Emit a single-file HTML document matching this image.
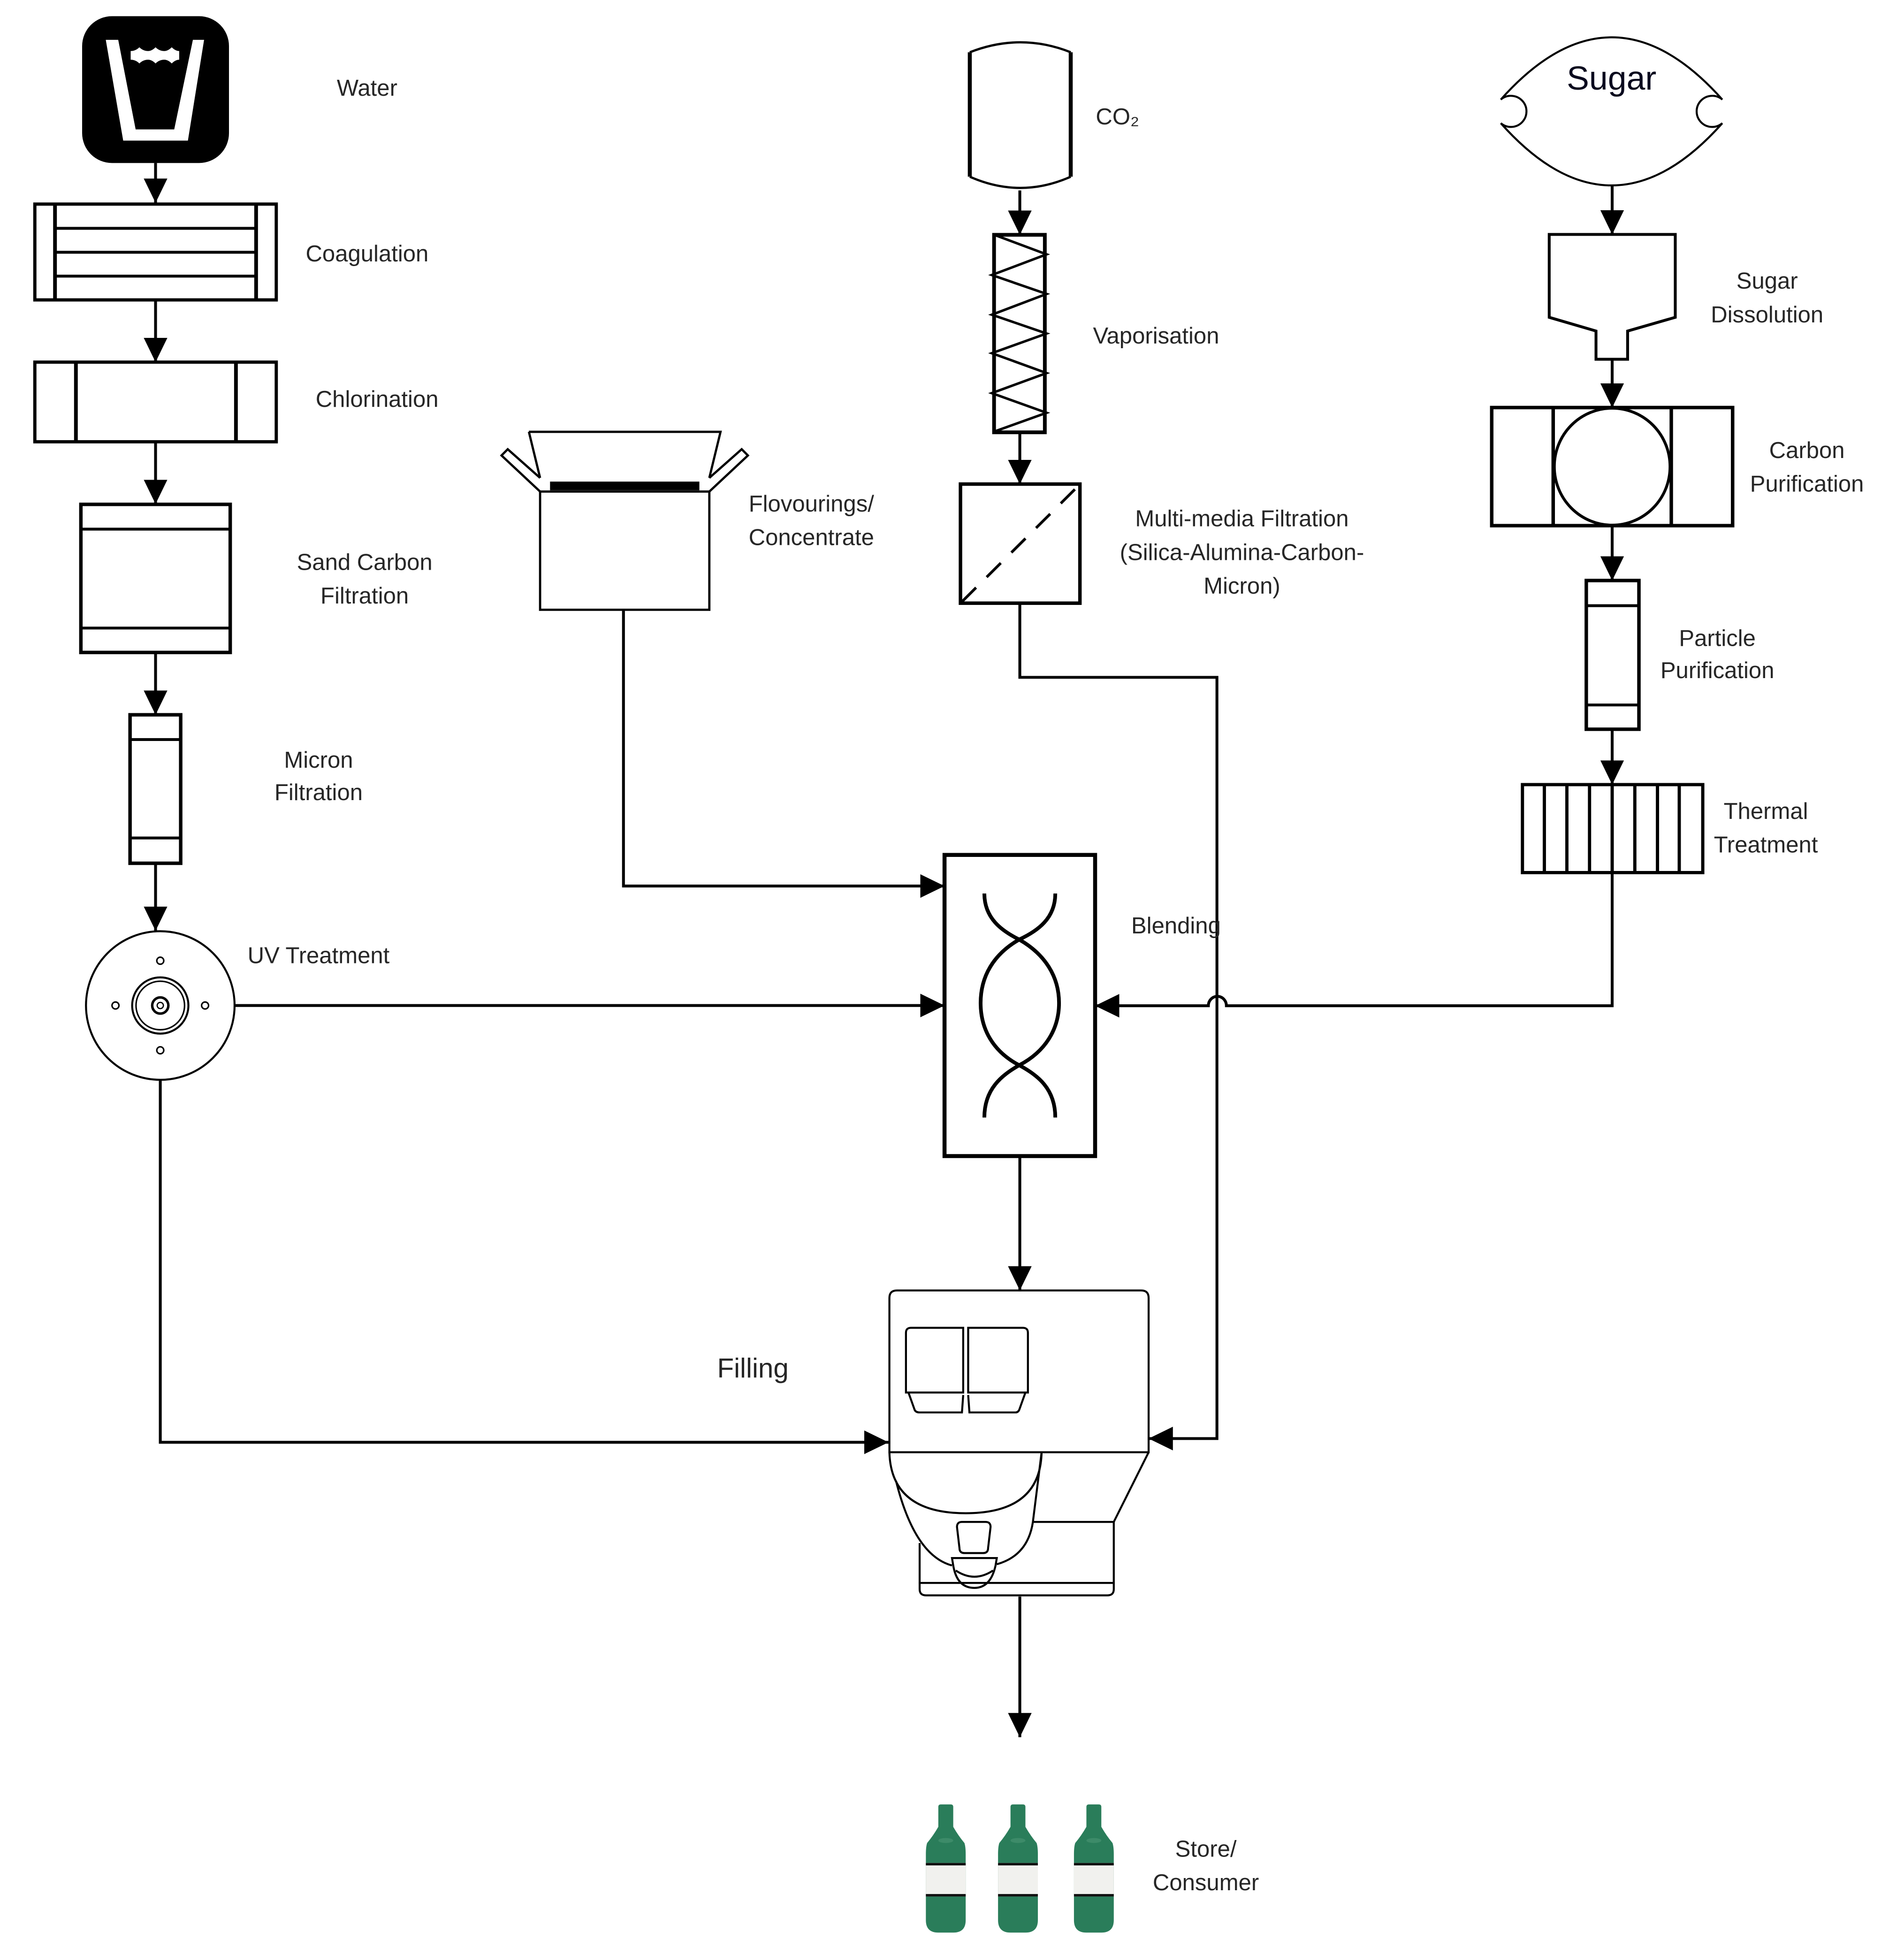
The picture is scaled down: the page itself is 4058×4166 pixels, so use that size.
<!DOCTYPE html>
<html><head><meta charset="utf-8">
<style>
html,body{margin:0;padding:0;background:#fff;}
svg{display:block;}
text{font-family:"Liberation Sans",sans-serif;fill:#262626;font-size:18.5px;}
</style></head>
<body>
<svg width="4058" height="4166" viewBox="0 0 1530 1571" preserveAspectRatio="none" xmlns="http://www.w3.org/2000/svg">
<defs>
<marker id="a" markerUnits="userSpaceOnUse" markerWidth="20" markerHeight="20" viewBox="0 0 20 20" refX="19.5" refY="10" orient="auto">
<path d="M0,0.5 L19.5,10 L0,19.5 Z" fill="#000"/>
</marker>
</defs>
<rect x="0" y="0" width="1530" height="1571" fill="#fff"/>
<g fill="none" stroke="#000" stroke-width="2.3">

<!-- Water icon -->
<rect x="66" y="13" width="118" height="118" rx="24" fill="#000" stroke="none"/>
<path d="M85,32 L95,32 L109,104 L140,104 L155,32 L164,32 L151,113 L99,113 Z" fill="#fff" stroke="none"/>
<path d="M105,41 Q109,41 112,38 Q115,41 119,41 Q122,41 125,38 Q128,41 132,41 Q135,41 138,38 Q141,41 144,41 L144,48 Q141,48 138,51 Q135,48 132,48 Q128,48 125,51 Q122,48 119,48 Q115,48 112,51 Q109,48 105,48 Z" fill="#fff" stroke="none"/>
<line x1="125" y1="131" x2="125" y2="163" marker-end="url(#a)"/>

<!-- Coagulation -->
<rect x="28" y="164" width="194" height="77" stroke-width="2.6"/>
<line x1="44.2" y1="164" x2="44.2" y2="241" stroke-width="3"/>
<line x1="205.8" y1="164" x2="205.8" y2="241" stroke-width="3"/>
<line x1="44" y1="183.5" x2="206" y2="183.5"/>
<line x1="44" y1="202.7" x2="206" y2="202.7"/>
<line x1="44" y1="221.9" x2="206" y2="221.9"/>
<line x1="125" y1="241" x2="125" y2="291" marker-end="url(#a)"/>

<!-- Chlorination -->
<rect x="28" y="291" width="194" height="64" stroke-width="2.6"/>
<line x1="61" y1="291" x2="61" y2="355" stroke-width="3"/>
<line x1="189.6" y1="291" x2="189.6" y2="355" stroke-width="3"/>
<line x1="125" y1="355" x2="125" y2="405" marker-end="url(#a)"/>

<!-- Sand carbon -->
<rect x="65" y="405.3" width="120" height="119" stroke-width="2.8"/>
<line x1="65" y1="425.2" x2="185" y2="425.2"/>
<line x1="65" y1="504.7" x2="185" y2="504.7"/>
<line x1="125" y1="524.5" x2="125" y2="574.4" marker-end="url(#a)"/>

<!-- Micron -->
<rect x="104.5" y="574.4" width="40.7" height="119.3" stroke-width="2.8"/>
<line x1="104.5" y1="594.3" x2="145.2" y2="594.3"/>
<line x1="104.5" y1="673.4" x2="145.2" y2="673.4"/>
<line x1="125" y1="693.7" x2="125" y2="748" marker-end="url(#a)"/>

<!-- UV -->
<circle cx="128.8" cy="808" r="59.7" stroke-width="1.6"/>
<circle cx="128.8" cy="808" r="22.6" stroke-width="1.6"/>
<circle cx="128.8" cy="808" r="19.5" stroke-width="1.2"/>
<circle cx="128.8" cy="808" r="6.5" stroke-width="2"/>
<circle cx="128.8" cy="808" r="2.5" stroke-width="1"/>
<circle cx="128.8" cy="772" r="2.8" stroke-width="1.2"/>
<circle cx="128.8" cy="844" r="2.8" stroke-width="1.2"/>
<circle cx="92.8" cy="808" r="2.8" stroke-width="1.2"/>
<circle cx="164.8" cy="808" r="2.8" stroke-width="1.2"/>
<line x1="188.5" y1="808" x2="759" y2="808" marker-end="url(#a)"/>
<polyline points="128.8,867.7 128.8,1159 714,1159" marker-end="url(#a)"/>

<!-- Flavourings box -->
<path d="M425,347 L579,347 L570,384 M425,347 L434,384" stroke-width="1.8"/>
<rect x="434" y="395" width="136" height="95" stroke-width="1.8" fill="#fff"/>
<path d="M434,395 L403,366 L408,361 L434,384" stroke-width="1.8"/>
<path d="M570,395 L601,366 L596,361 L570,384" stroke-width="1.8"/>
<rect x="442" y="387" width="120" height="7" fill="#000" stroke="none"/>
<polyline points="501,490 501,712 759,712" marker-end="url(#a)"/>

<!-- CO2 tank -->
<path d="M779.3,42 Q820,26 860.4,42" stroke-width="1.8"/>
<path d="M779.3,142 Q820,160 860.4,142" stroke-width="1.8"/>
<line x1="779.3" y1="42" x2="779.3" y2="142" stroke-width="3.2"/>
<line x1="860.4" y1="42" x2="860.4" y2="142" stroke-width="3.2"/>
<line x1="819.5" y1="153" x2="819.5" y2="188.7" marker-end="url(#a)"/>

<!-- Vaporisation -->
<rect x="798.8" y="188.7" width="40.8" height="158.7" stroke-width="3"/>
<polyline points="799,188.7 841,204.4 797,221 841,236.2 797,252.9 841,268 797,283.8 841,299.8 797,315.9 841,331.7 799,346.8" stroke-width="2"/>
<line x1="819.5" y1="347.4" x2="819.5" y2="389" marker-end="url(#a)"/>

<!-- Multi-media -->
<rect x="771.8" y="389" width="96" height="95.7" stroke-width="2.8"/>
<line x1="773" y1="483.5" x2="867" y2="390" stroke-dasharray="16,12" stroke-width="2.2"/>
<polyline points="819.5,484.7 819.5,544.3 977.9,544.3 977.9,1156 923,1156" marker-end="url(#a)"/>

<!-- Sugar -->
<path d="M1206,80 Q1295,-20 1384,80 A12.5,12.5 0 1 0 1384,99 Q1295,199 1206,99 A12.5,12.5 0 1 0 1206,80 Z" stroke-width="1.6"/>
<line x1="1295.5" y1="149" x2="1295.5" y2="188.4" marker-end="url(#a)"/>

<!-- Sugar dissolution hopper -->
<path d="M1244.9,188.4 L1346.2,188.4 L1346.2,255 L1307.9,266 L1307.9,288.7 L1282.5,288.7 L1282.5,266 L1244.9,255 Z" stroke-width="2.3"/>
<line x1="1295.5" y1="288.7" x2="1295.5" y2="327.5" marker-end="url(#a)"/>

<!-- Carbon purification -->
<rect x="1198.7" y="327.5" width="193.6" height="94.9" stroke-width="2.8"/>
<line x1="1248.1" y1="327.5" x2="1248.1" y2="422.4" stroke-width="2.8"/>
<line x1="1343" y1="327.5" x2="1343" y2="422.4" stroke-width="2.8"/>
<ellipse cx="1295.5" cy="375" rx="46.5" ry="47" stroke-width="2.3"/>
<line x1="1295.5" y1="422.4" x2="1295.5" y2="466.5" marker-end="url(#a)"/>

<!-- Particle -->
<rect x="1274.7" y="466.5" width="42.3" height="119.5" stroke-width="2.8"/>
<line x1="1274.7" y1="486.7" x2="1317" y2="486.7"/>
<line x1="1274.7" y1="566.5" x2="1317" y2="566.5"/>
<line x1="1295.5" y1="586" x2="1295.5" y2="630.5" marker-end="url(#a)"/>

<!-- Thermal -->
<rect x="1223.4" y="630.5" width="144.9" height="70.7" stroke-width="2.6"/>
<g stroke-width="2.6">
<line x1="1241" y1="630.5" x2="1241" y2="701.2"/>
<line x1="1259.1" y1="630.5" x2="1259.1" y2="701.2"/>
<line x1="1277.3" y1="630.5" x2="1277.3" y2="701.2"/>
<line x1="1295.5" y1="630.5" x2="1295.5" y2="701.2"/>
<line x1="1313.7" y1="630.5" x2="1313.7" y2="701.2"/>
<line x1="1331.9" y1="630.5" x2="1331.9" y2="701.2"/>
<line x1="1349.4" y1="630.5" x2="1349.4" y2="701.2"/>
</g>
<path d="M1295.5,701.2 L1295.5,808.2 L985.5,808.2 A7.2,7.5 0 0 0 971,808.2 L880,808.2" marker-end="url(#a)"/>

<!-- Blending -->
<rect x="759" y="687" width="121" height="242" stroke-width="3.2"/>
<path d="M791,718 C791,738 805,748 819,755 C840,767 851,785 851,806 C851,827 840,845 819,856 C805,864 791,875 791,898" stroke-width="3"/>
<path d="M848,718 C848,738 834,748 819,755 C798,767 788,785 788,806 C788,827 798,845 819,856 C834,864 848,875 848,898" stroke-width="3"/>
<line x1="819.5" y1="929" x2="819.5" y2="1037" marker-end="url(#a)"/>

<!-- Filling machine -->
<g stroke-width="1.6">
<path d="M714.7,1167 L714.7,1043 Q714.7,1037 720.7,1037 L917,1037 Q923,1037 923,1043 L923,1167 Z"/>
<path d="M728,1119 L728,1071 Q728,1067 732,1067 L774,1067 L774,1119 Z"/>
<path d="M778,1119 L778,1067 L822,1067 Q826,1067 826,1071 L826,1119 Z"/>
<path d="M730,1119 L735,1133 Q736,1135 739,1135 L773,1135 L774,1121"/>
<path d="M778,1121 L779,1135 L816,1135 Q818,1135 819,1133 L824,1119"/>
<path d="M714.7,1167 Q716,1216 776,1216 Q836,1216 837,1167"/>
<path d="M720,1190 Q735,1250 765,1258"/>
<path d="M837,1167 L830,1223 Q826,1250 801,1257"/>
<path d="M923,1167 L895,1223 L830,1223"/>
<path d="M895,1223 L895,1277 Q895,1282 890,1282 L744,1282 Q739,1282 739,1277 L739,1240"/>
<line x1="739" y1="1272" x2="895" y2="1272"/>
<path d="M769,1227 Q769,1223 773,1223 L792,1223 Q796,1223 796,1227 L794,1244 Q794,1248 790,1248 L775,1248 Q771,1248 771,1244 Z"/>
<path d="M765,1252 L801,1252 L800,1258 Q796,1276 783,1276 Q769,1276 766,1258 Z"/>
<path d="M768,1262 Q783,1272 798,1262"/>
</g>
<line x1="819.5" y1="1283" x2="819.5" y2="1396" marker-end="url(#a)"/>
</g>

<!-- Bottles -->
<g id="b">
<path d="M754,1452 Q754,1450 756,1450 L764,1450 Q766,1450 766,1452 L766,1468 Q770,1475 775,1481 Q776,1484 776,1490 L776,1543 Q776,1553 766,1553 L754,1553 Q744,1553 744,1543 L744,1490 Q744,1484 745,1481 Q750,1475 754,1468 Z" fill="#2a7d5a"/>
<rect x="744" y="1497" width="32" height="27" fill="#f1f1ee"/>
<rect x="744" y="1497" width="32" height="2" fill="#111"/>
<rect x="744" y="1522" width="32" height="2" fill="#111"/>
<ellipse cx="760" cy="1479" rx="6" ry="2" fill="#4f9a78" opacity="0.5"/>
</g>
<use href="#b" transform="translate(58,0)"/>
<use href="#b" transform="translate(119,0)"/>

<!-- Labels -->
<text x="295" y="77" text-anchor="middle">Water</text>
<text x="295" y="210" text-anchor="middle">Coagulation</text>
<text x="303" y="327" text-anchor="middle">Chlorination</text>
<text x="293" y="458" text-anchor="middle">Sand Carbon</text>
<text x="293" y="485" text-anchor="middle">Filtration</text>
<text x="256" y="617" text-anchor="middle">Micron</text>
<text x="256" y="643" text-anchor="middle">Filtration</text>
<text x="256" y="774" text-anchor="middle">UV Treatment</text>
<text x="652" y="411" text-anchor="middle">Flovourings/</text>
<text x="652" y="438" text-anchor="middle">Concentrate</text>
<text x="898" y="100" text-anchor="middle">CO₂</text>
<text x="929" y="276" text-anchor="middle">Vaporisation</text>
<text x="998" y="423" text-anchor="middle">Multi-media Filtration</text>
<text x="998" y="450" text-anchor="middle">(Silica-Alumina-Carbon-</text>
<text x="998" y="477" text-anchor="middle">Micron)</text>
<text x="1295" y="72" text-anchor="middle" style="font-size:27px;fill:#0a0a1e">Sugar</text>
<text x="1420" y="232" text-anchor="middle">Sugar</text>
<text x="1420" y="259" text-anchor="middle">Dissolution</text>
<text x="1452" y="368" text-anchor="middle">Carbon</text>
<text x="1452" y="395" text-anchor="middle">Purification</text>
<text x="1380" y="519" text-anchor="middle">Particle</text>
<text x="1380" y="545" text-anchor="middle">Purification</text>
<text x="1419" y="658" text-anchor="middle">Thermal</text>
<text x="1419" y="685" text-anchor="middle">Treatment</text>
<text x="945" y="750" text-anchor="middle">Blending</text>
<text x="605" y="1107" text-anchor="middle" style="font-size:22px">Filling</text>
<text x="969" y="1492" text-anchor="middle">Store/</text>
<text x="969" y="1519" text-anchor="middle">Consumer</text>
</svg>
</body></html>
